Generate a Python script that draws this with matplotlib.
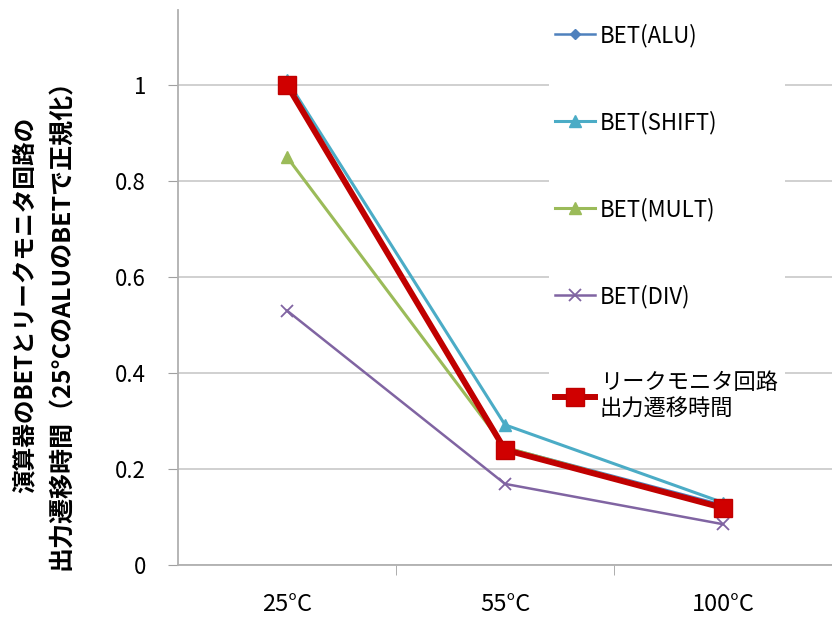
import numpy as np
import matplotlib
matplotlib.use('Agg')
import matplotlib.pyplot as plt

plt.rcParams['font.family'] = ['Noto Sans CJK JP', 'DejaVu Sans']

# 温度条件と各系列（25℃のALUのBETで正規化）
temps = ['25°C', '55°C', '100°C']
bet_alu = [1.00, 0.245, 0.125]
bet_shift = [1.01, 0.292, 0.130]
bet_mult = [0.85, 0.245, 0.120]
bet_div = [0.53, 0.169, 0.085]
leak_monitor = [1.00, 0.240, 0.119]

labels = ['BET(ALU)', 'BET(SHIFT)', 'BET(MULT)', 'BET(DIV)',
          'リークモニタ回路\n出力遷移時間']
ylabel_lines = ['演算器のBETとリークモニタ回路の',
                '出力遷移時間（25°CのALUのBETで正規化）']

fig = plt.figure(figsize=(8.32, 6.21), dpi=100)
ax = fig.add_axes([178 / 832, 56 / 621, 654 / 832, 555 / 621])

x = np.arange(len(temps))
ax.plot(x, bet_alu, color='#4F81BD', lw=1.8, marker='D', ms=5, label=labels[0])
ax.plot(x, bet_shift, color='#4BACC6', lw=2.2, marker='^', ms=8, label=labels[1])
ax.plot(x, bet_mult, color='#9BBB59', lw=2.2, marker='^', ms=8, label=labels[2])
ax.plot(x, bet_div, color='#8064A2', lw=1.8, marker='x', ms=9, mew=1.3, label=labels[3])
ax.plot(x, leak_monitor, color='#C00000', lw=4.3, marker='s', ms=13,
        mfc='#D00000', mec='#C00000', label=labels[4])

ax.set_xlim(-0.5, 2.5)
ax.set_ylim(0, 555 / 480)
ax.set_yticks([0, 0.2, 0.4, 0.6, 0.8, 1.0])
ax.set_yticklabels(['0', '0.2', '0.4', '0.6', '0.8', '1'])
ax.set_xticks(x)
ax.set_xticklabels(temps)
ax.set_xticks([0.5, 1.5], minor=True)
ax.tick_params(axis='x', which='major', length=0, pad=20, labelsize=17)
ax.tick_params(axis='x', which='minor', length=7, color='#a0a0a0')
ax.tick_params(axis='y', length=7, color='#a0a0a0', pad=16, labelsize=16)

ax.grid(axis='y', color='#c8c8c8', lw=1.2)
ax.set_axisbelow(True)
for s in ['top', 'right']:
    ax.spines[s].set_visible(False)
for s in ['left', 'bottom']:
    ax.spines[s].set_color('#b0b0b0')
    ax.spines[s].set_linewidth(1.3)

# 縦軸ラベル（2行を個別に配置）
fig.text(25 / 832, 1 - 305 / 621, ylabel_lines[0], rotation=90, fontsize=17,
         fontweight='bold', ha='center', va='center')
fig.text(62 / 832, 1 - 318 / 621, ylabel_lines[1], rotation=90, fontsize=18,
         fontweight='bold', ha='center', va='center')

leg = ax.legend(loc='upper left', bbox_to_anchor=(0.55, 1.008), fontsize=16,
                labelspacing=2.85, handlelength=1.8, handletextpad=0.2,
                borderpad=0.3, frameon=True, fancybox=False)
leg.get_frame().set_facecolor('white')
leg.get_frame().set_edgecolor('none')
leg.get_frame().set_alpha(1)

fig.savefig('out.png', dpi=100)
